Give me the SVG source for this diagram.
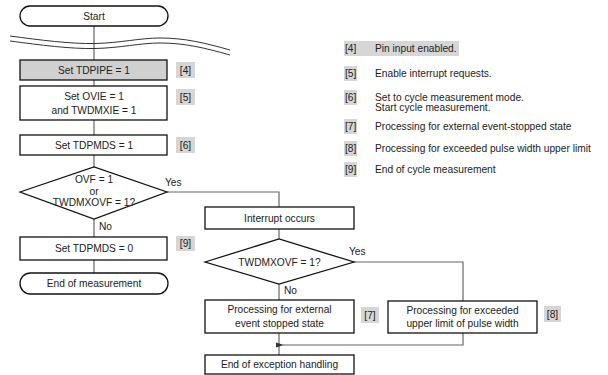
<svg xmlns="http://www.w3.org/2000/svg" width="608" height="375" viewBox="0 0 608 375">
<defs>
<style>
text{font-family:"Liberation Sans",Arial,sans-serif;font-size:10.2px;fill:#222;}
.c{text-anchor:middle;}
.box{fill:#fff;stroke:#111;stroke-width:1.3;}
.conn{fill:none;stroke:#666;stroke-width:1.2;}
.tag{fill:#d6d6d6;}
.wave{fill:none;stroke:#333;stroke-width:1;}
</style>
<marker id="arr" markerWidth="8" markerHeight="6" refX="1" refY="3" orient="auto" markerUnits="userSpaceOnUse">
<path d="M8,0.5 L0,3 L8,5.5 Z" fill="#333"/>
</marker>
</defs>
<rect width="608" height="375" fill="#fff"/>
<g id="connectors">
<path class="conn" d="M94,26 V60 M94,80 V86 M94,120 V135 M94,155 V167 M94,219 V237 M94,260 V273"/>
<path class="conn" d="M167,192 H279 V207"/>
<path class="conn" d="M279,229 V239"/>
<path class="conn" d="M279,284 V300"/>
<path class="conn" d="M354,262 H463 V301"/>
<path class="conn" d="M279,333 V355"/>
<path class="conn" d="M463,333 V345 H283" marker-end="url(#arr)"/>
</g>
<g id="wave">
<path class="wave" d="M10,36 C40,40 70,44 95,43.5 C120,43 140,38 160,38 C185,38 205,43 230,50"/>
<path class="wave" d="M10,41 C40,45 70,49 95,48.5 C120,48 140,43 160,43 C185,43 205,48 230,55"/>
</g>
<g id="start">
<rect class="box" x="20" y="6" width="148" height="20" rx="10"/>
<text class="c" x="94" y="19.7">Start</text>
</g>
<g id="set_tdpipe">
<rect class="box" x="20" y="60" width="147" height="20" style="fill:#d0d0d0"/>
<text class="c" x="94" y="73.7">Set TDPIPE = 1</text>
<rect class="tag" x="176" y="62" width="19" height="16"/>
<text class="c" x="185.5" y="73.7">[4]</text>
</g>
<g id="set_ovie">
<rect class="box" x="20" y="86" width="147" height="34"/>
<text class="c" x="94" y="100">Set OVIE = 1</text>
<text class="c" x="94" y="113.5">and TWDMXIE = 1</text>
<rect class="tag" x="176" y="89" width="19" height="16"/>
<text class="c" x="185.5" y="100.7">[5]</text>
</g>
<g id="set_tdpmds1">
<rect class="box" x="20" y="135" width="147" height="20"/>
<text class="c" x="94" y="148.7">Set TDPMDS = 1</text>
<rect class="tag" x="176" y="137" width="19" height="16"/>
<text class="c" x="185.5" y="148.7">[6]</text>
</g>
<g id="decision1">
<polygon class="box" points="20,192 94,167 167,192 94,219"/>
<text class="c" x="94" y="183">OVF = 1</text>
<text class="c" x="94" y="194.5">or</text>
<text class="c" x="94" y="206">TWDMXOVF = 1?</text>
<text x="165" y="186">Yes</text>
<text x="99" y="229.5">No</text>
</g>
<g id="set_tdpmds0">
<rect class="box" x="20" y="237" width="147" height="23"/>
<text class="c" x="94" y="251.7">Set TDPMDS = 0</text>
<rect class="tag" x="176" y="236" width="19" height="15"/>
<text class="c" x="185.5" y="246.7">[9]</text>
</g>
<g id="end_measurement">
<rect class="box" x="20" y="273" width="148" height="21" rx="10.5"/>
<text class="c" x="94" y="287.2">End of measurement</text>
</g>
<g id="interrupt">
<rect class="box" x="205" y="207" width="149" height="22"/>
<text class="c" x="279.5" y="221.7">Interrupt occurs</text>
</g>
<g id="decision2">
<polygon class="box" points="205,262 279,239 354,262 279,284"/>
<text class="c" x="279.5" y="265.7">TWDMXOVF = 1?</text>
<text x="349" y="255">Yes</text>
<text x="284" y="294">No</text>
</g>
<g id="proc_external">
<rect class="box" x="205" y="300" width="149" height="33"/>
<text class="c" x="279.5" y="313">Processing for external</text>
<text class="c" x="279.5" y="326.5">event stopped state</text>
<rect class="tag" x="361" y="307" width="18" height="16"/>
<text class="c" x="370" y="318.7">[7]</text>
</g>
<g id="proc_exceeded">
<rect class="box" x="388" y="301" width="149" height="32"/>
<text class="c" x="462.5" y="313.5">Processing for exceeded</text>
<text class="c" x="462.5" y="327">upper limit of pulse width</text>
<rect class="tag" x="544" y="306" width="17" height="16"/>
<text class="c" x="552.5" y="317.7">[8]</text>
</g>
<g id="end_exception">
<rect class="box" x="205" y="355" width="149" height="19"/>
<text class="c" x="279.5" y="368.2">End of exception handling</text>
</g>
<g id="legend">
<rect class="tag" x="344" y="41" width="115" height="15"/>
<text x="345" y="52.2">[4]</text><text x="375" y="52.2">Pin input enabled.</text>
<rect class="tag" x="344" y="66" width="13" height="15"/>
<text x="345" y="77.2">[5]</text><text x="375" y="77.2">Enable interrupt requests.</text>
<rect class="tag" x="344" y="90" width="13" height="15"/>
<text x="345" y="101.2">[6]</text><text x="375" y="101.2">Set to cycle measurement mode.</text>
<text x="375" y="110.7">Start cycle measurement.</text>
<rect class="tag" x="344" y="119" width="13" height="15"/>
<text x="345" y="130.2">[7]</text><text x="375" y="130.2">Processing for external event-stopped state</text>
<rect class="tag" x="344" y="141" width="13" height="15"/>
<text x="345" y="152.2">[8]</text><text x="375" y="152.2">Processing for exceeded pulse width upper limit</text>
<rect class="tag" x="344" y="162" width="13" height="15"/>
<text x="345" y="173.2">[9]</text><text x="375" y="173.2">End of cycle measurement</text>
</g>
</svg>
